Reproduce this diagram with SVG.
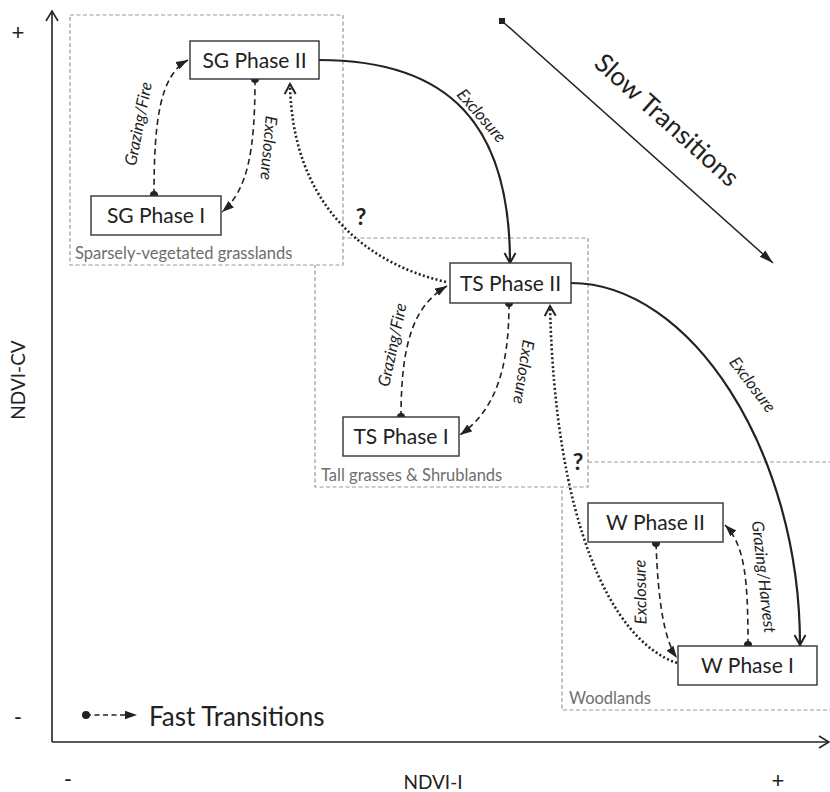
<svg xmlns="http://www.w3.org/2000/svg" width="830" height="792" viewBox="0 0 830 792">
<style>
.region{fill:none;stroke:#9a9a9a;stroke-width:1.2;stroke-dasharray:4 2.5}
.region.w{fill:#fff}
.rlabel{font-family:Lato,"Liberation Sans",sans-serif;font-size:16.5px;fill:#6e6e6e}
.node rect{fill:#fff;stroke:#333;stroke-width:1.4}
.node text{font-family:Lato,"Liberation Sans",sans-serif;font-size:21px;fill:#222;text-anchor:middle}
.c{fill:none;stroke:#222}
.dash{stroke-width:1.6;stroke-dasharray:6 4}
.dotted{stroke-width:2.6;stroke-dasharray:2 2.4}
.solid{stroke-width:2.2}
.lbl{font-family:Lato,"Liberation Sans",sans-serif;font-size:16.5px;font-style:italic;fill:#222;text-anchor:middle}
.ax{font-family:Lato,"Liberation Sans",sans-serif;font-size:19px;fill:#222;text-anchor:middle}
.pm{font-family:"Liberation Sans",sans-serif;font-size:22px;fill:#222;text-anchor:middle}
.big{font-family:Lato,"Liberation Sans",sans-serif;font-size:26px;fill:#222}
.q{font-family:Lato,"Liberation Sans",sans-serif;font-size:23px;font-weight:bold;fill:#222;text-anchor:middle}
</style>
<defs>
<marker id="fa" markerUnits="userSpaceOnUse" markerWidth="12" markerHeight="10" refX="12" refY="5" orient="auto" viewBox="0 0 12 10"><path d="M0,0.8 L12,5 L0,9.2 z" fill="#222" stroke="none"/></marker>
<marker id="fab" markerUnits="userSpaceOnUse" markerWidth="14" markerHeight="10" refX="14" refY="5" orient="auto" viewBox="0 0 14 10"><path d="M0,0.8 L14,5 L0,9.2 z" fill="#222" stroke="none"/></marker>
<marker id="oa" markerUnits="userSpaceOnUse" markerWidth="14" markerHeight="14" refX="12" refY="7" orient="auto" viewBox="0 0 14 14"><path d="M2,1.5 L12,7 L2,12.5" fill="none" stroke="#222" stroke-width="2" stroke-dasharray="none"/></marker>
<marker id="oaax" markerUnits="userSpaceOnUse" markerWidth="14" markerHeight="16" refX="12" refY="8" orient="auto" viewBox="0 0 14 16"><path d="M2,2 L12,8 L2,14" fill="none" stroke="#222" stroke-width="1.6"/></marker>
<marker id="dot" markerUnits="userSpaceOnUse" markerWidth="10" markerHeight="10" refX="5" refY="5" viewBox="0 0 10 10"><circle cx="5" cy="5" r="4" fill="#222"/></marker>
<marker id="sq" markerUnits="userSpaceOnUse" markerWidth="8" markerHeight="8" refX="4" refY="4" viewBox="0 0 8 8"><rect x="1" y="1" width="6" height="6" fill="#222"/></marker>
</defs>

<g id="axes">
<path class="c" d="M52,742 L52,11" stroke-width="1.6" marker-end="url(#oaax)"/>
<path class="c" d="M52,742 L829,742" stroke-width="1.6" marker-end="url(#oaax)"/>
<text class="pm" x="18" y="40">+</text>
<text class="pm" x="18" y="724">-</text>
<text class="ax" transform="translate(25,380) rotate(-90)" x="0" y="0">NDVI-CV</text>
<text class="pm" x="68" y="786">-</text>
<text class="ax" x="433" y="789">NDVI-I</text>
<text class="pm" x="778" y="788">+</text>
</g>

<g id="regions">
<rect id="region-w" class="region" x="562" y="462" width="275" height="248"/>
<rect id="region-ts" class="region w" x="315" y="238" width="273" height="249"/>
<rect id="region-sg" class="region w" x="70" y="15" width="273" height="250"/>
<text class="rlabel" x="75" y="259">Sparsely-vegetated grasslands</text>
<text class="rlabel" x="321" y="481">Tall grasses &amp; Shrublands</text>
<text class="rlabel" x="569" y="704">Woodlands</text>
</g>

<g id="slow-legend">
<path class="c" d="M502,21 L773,263" stroke-width="1.5" marker-start="url(#sq)" marker-end="url(#fab)"/>
<text class="big" transform="translate(667,120) rotate(42)" x="0" y="9" text-anchor="middle">Slow Transitions</text>
</g>

<g id="fast-legend">
<path class="c" d="M86,715 L137,715" stroke-width="1.6" stroke-dasharray="5 3.5" marker-start="url(#dot)" marker-end="url(#fa)"/>
<text class="big" x="149" y="726">Fast Transitions</text>
</g>

<g id="connectors">
<path class="c dash" d="M154,195 C154,120 160,75 188,60" marker-start="url(#dot)" marker-end="url(#fa)"/>
<path class="c dash" d="M255,79 C255,150 248,190 222,212" marker-start="url(#dot)" marker-end="url(#fa)"/>
<path class="c dotted" d="M446,282 C360,262 292,200 290,84" marker-end="url(#oa)"/>
<path class="c solid" d="M319,60 C450,60 510,125 510,263" marker-end="url(#oa)"/>
<path class="c dash" d="M401,417 C401,340 415,305 447,286" marker-start="url(#dot)" marker-end="url(#fa)"/>
<path class="c dash" d="M509,303 C509,370 495,410 460,435" marker-start="url(#dot)" marker-end="url(#fa)"/>
<path class="c solid" d="M571,283 C690,283 800,450 800,645" marker-end="url(#oa)"/>
<path class="c dotted" d="M677,663 C610,640 555,520 550,306" marker-end="url(#oa)"/>
<path class="c dash" d="M656,543 C658,600 664,640 677,658" marker-start="url(#dot)" marker-end="url(#fa)"/>
<path class="c dash" d="M748,645 C748,580 745,545 725,525" marker-start="url(#dot)" marker-end="url(#fa)"/>
<text class="lbl" transform="translate(139,124) rotate(-79)" x="0" y="5">Grazing/Fire</text>
<text class="lbl" transform="translate(268,148) rotate(95)" x="0" y="5">Exclosure</text>
<text class="lbl" transform="translate(481,116) rotate(49)" x="0" y="5">Exclosure</text>
<text class="q" x="361" y="225">?</text>
<text class="lbl" transform="translate(393,345) rotate(-78)" x="0" y="5">Grazing/Fire</text>
<text class="lbl" transform="translate(523,372) rotate(99)" x="0" y="5">Exclosure</text>
<text class="lbl" transform="translate(752,385) rotate(53)" x="0" y="5">Exclosure</text>
<text class="q" x="578" y="470">?</text>
<text class="lbl" transform="translate(641,592) rotate(-91)" x="0" y="5">Exclosure</text>
<text class="lbl" transform="translate(763,577) rotate(83.5)" x="0" y="5">Grazing/Harvest</text>
</g>

<g id="sg-phase-2" class="node"><rect x="190" y="41" width="129" height="38"/><text x="254.5" y="67.5">SG Phase II</text></g>
<g id="sg-phase-1" class="node"><rect x="91" y="196" width="130" height="39"/><text x="156" y="223">SG Phase I</text></g>
<g id="ts-phase-2" class="node"><rect x="450" y="263" width="121" height="40"/><text x="510.5" y="290.5">TS Phase II</text></g>
<g id="ts-phase-1" class="node"><rect x="343" y="417" width="116" height="39"/><text x="401" y="444">TS Phase I</text></g>
<g id="w-phase-2" class="node"><rect x="588" y="503" width="135" height="39"/><text x="655.5" y="530">W Phase II</text></g>
<g id="w-phase-1" class="node"><rect x="678" y="646" width="139" height="39"/><text x="747.5" y="673">W Phase I</text></g>
</svg>
